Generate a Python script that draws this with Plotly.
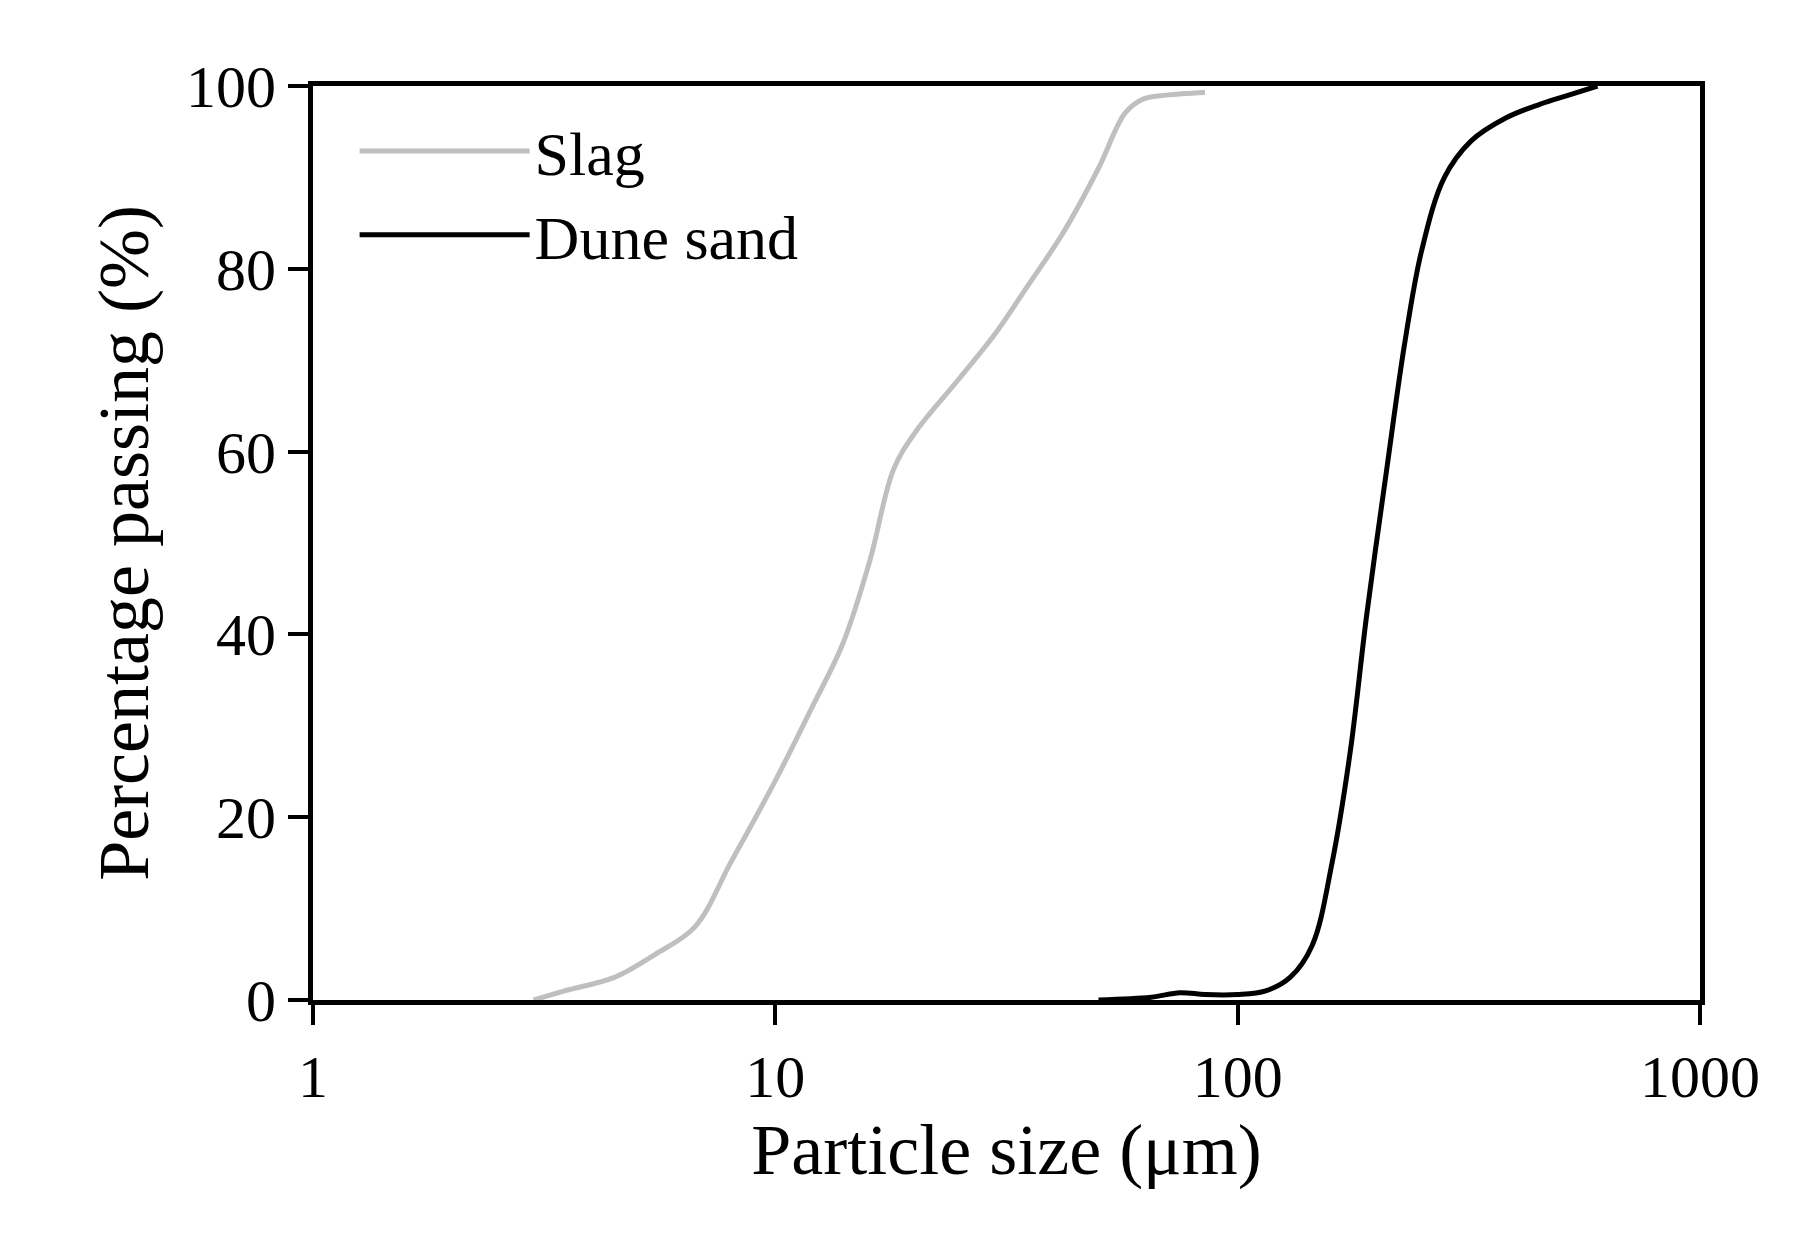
import plotly.graph_objects as go

slag_x = [3, 3.5, 4.5, 5.5, 6.7, 8, 10, 12, 14, 16, 18, 20, 25, 30, 35, 42, 50, 57, 62, 70, 85]
slag_y = [0, 1, 2.5, 5, 8, 15, 24, 32, 39, 48, 58, 62, 68, 73, 78, 84, 91, 97, 98.5, 99, 99.3]
sand_x = [50, 65, 75, 85, 100, 115, 130, 145, 160, 175, 190, 210, 230, 250, 280, 320, 380, 450, 520, 600]
sand_y = [0, 0.3, 0.8, 0.6, 0.6, 1, 2.5, 6, 15, 27, 42, 58, 72, 82, 90, 94, 96.5, 98, 99, 100]

font = "Liberation Serif"
fig = go.Figure()
fig.add_trace(go.Scatter(x=slag_x, y=slag_y, mode="lines", name="Slag",
                         line=dict(color="#bfbfbf", width=5, shape="spline")))
fig.add_trace(go.Scatter(x=sand_x, y=sand_y, mode="lines", name="Dune sand",
                         line=dict(color="black", width=5, shape="spline")))
fig.update_layout(
    width=1796, height=1236, plot_bgcolor="white", paper_bgcolor="white",
    margin=dict(l=305, r=104, t=78, b=244),
    font=dict(family=font, size=60, color="black"),
    legend=dict(x=0.03, y=0.98, xanchor="left", yanchor="top", bgcolor="rgba(0,0,0,0)",
                font=dict(size=62), itemwidth=170, tracegroupgap=70),
    showlegend=True,
)
fig.update_xaxes(type="log", range=[0, 3], tickvals=[1, 10, 100, 1000], ticktext=["1", "10", "100", "1000"],
                 showline=True, linecolor="black", linewidth=5, mirror=True, ticks="outside",
                 ticklen=20, tickwidth=4, tickcolor="black", showgrid=False, zeroline=False,
                 title=dict(text="Particle size (μm)", standoff=10))
fig.update_yaxes(range=[0, 100], tickvals=[0, 20, 40, 60, 80, 100],
                 showline=True, linecolor="black", linewidth=5, mirror=True, ticks="outside",
                 ticklen=20, tickwidth=4, tickcolor="black", showgrid=False, zeroline=False,
                 title=dict(text="Percentage passing (%)", standoff=15))
fig.write_html("out.html")
